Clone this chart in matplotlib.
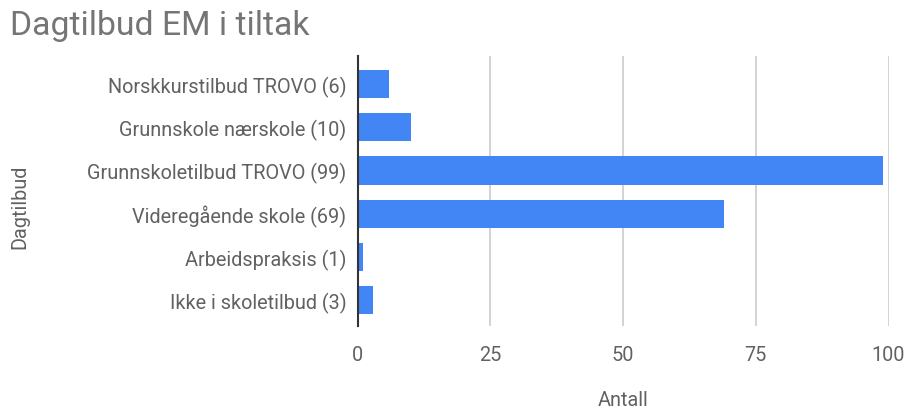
import matplotlib
matplotlib.use("Agg")
import matplotlib.pyplot as plt

categories = ["Norskkurstilbud TROVO (6)", "Grunnskole nærskole (10)",
              "Grunnskoletilbud TROVO (99)", "Videregående skole (69)",
              "Arbeidspraksis (1)", "Ikke i skoletilbud (3)"]
values = [6, 10, 99, 69, 1, 3]
xticks = [0, 25, 50, 75, 100]

plt.rcParams['font.family'] = ['Roboto', 'DejaVu Sans']

W, H = 907, 410
fig = plt.figure(figsize=(W / 100, H / 100), dpi=100)
ax = fig.add_axes([357.5 / W, (H - 327) / H, 531 / W, 270 / H])

y = list(range(len(categories)))
ax.barh(y, values, height=0.65, color="#4285F4", zorder=3)
ax.set_ylim(5.6, -0.65)
ax.set_xlim(0, 100)
ax.set_xticks(xticks)
ax.set_xticklabels([str(t) for t in xticks])
ax.set_yticks(y)
ax.set_yticklabels(categories)
ax.tick_params(axis='both', length=0, labelsize=14.3, labelcolor="#616161")
ax.tick_params(axis='x', pad=14)
ax.tick_params(axis='y', pad=8)
ax.grid(axis='x', color="#cccccc", linewidth=1.2, zorder=0)
for s in ["top", "right", "bottom"]:
    ax.spines[s].set_visible(False)
ax.spines["left"].set_color("#333333")
ax.spines["left"].set_linewidth(1.5)
ax.spines["left"].set_zorder(4)

fig.text(10 / W, 1 - 26 / H, "Dagtilbud EM i tiltak", fontsize=24.3, color="#757575",
         va="center", ha="left")
fig.text(623 / W, 1 - 401 / H, "Antall", fontsize=14.3, color="#616161",
         ha="center", va="center")
fig.text(20 / W, 1 - 207 / H, "Dagtilbud", fontsize=14.3, color="#616161",
         ha="center", va="center", rotation=90)

fig.savefig("out.png", dpi=100)
